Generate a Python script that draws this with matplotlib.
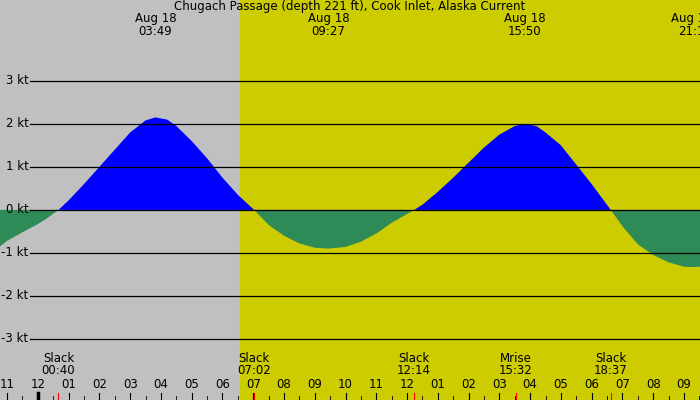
import matplotlib
matplotlib.use("Agg")
import matplotlib.pyplot as plt

times = [-1.23,-1.0,-0.5,0.0,0.33,0.67,1.0,1.5,2.0,2.5,3.0,3.5,3.82,4.2,4.5,5.0,5.5,6.0,6.5,7.03,7.5,8.0,8.5,9.0,9.45,10.0,10.5,11.0,11.5,12.23,12.5,13.0,13.5,14.0,14.5,15.0,15.5,15.83,16.2,16.5,17.0,17.5,18.0,18.62,19.0,19.5,20.0,20.5,21.0,21.3,21.52]
speeds = [-0.85,-0.72,-0.52,-0.33,-0.18,0.0,0.22,0.6,1.0,1.4,1.8,2.08,2.15,2.1,1.95,1.6,1.2,0.75,0.35,0.0,-0.35,-0.6,-0.78,-0.88,-0.9,-0.86,-0.74,-0.55,-0.3,0.0,0.12,0.42,0.75,1.1,1.45,1.75,1.95,2.0,1.95,1.8,1.5,1.05,0.6,0.0,-0.38,-0.8,-1.05,-1.22,-1.32,-1.33,-1.32]
ylevels = [3,2,1,0,-1,-2,-3]
hour_labels = ["11","12","01","02","03","04","05","06","07","08","09","10","11","12","01","02","03","04","05","06","07","08","09"]
top_events = [(3.82,"Aug 18\n03:49"),(9.45,"Aug 18\n09:27"),(15.83,"Aug 18\n15:50"),(21.25,"Aug 18\n21:1")]
bottom_events = [(0.67,"Slack\n00:40"),(7.03,"Slack\n07:02"),(12.23,"Slack\n12:14"),(15.53,"Mrise\n15:32"),(18.62,"Slack\n18:37")]
sunrise = 6.57

fig = plt.figure(figsize=(7,4), dpi=100)
ax = fig.add_axes([0,0,1,1])
x0, x1 = -1.23, 21.52
ax.set_xlim(x0, x1); ax.set_ylim(-4.42, 4.88)
ax.axis("off")
ax.axvspan(x0, sunrise, color="#c0c0c0", zorder=0)
ax.axvspan(sunrise, x1, color="#cccc00", zorder=0)
ax.fill_between(times, speeds, 0, where=[s>=0 for s in speeds], interpolate=True, color="#0000ff", lw=0, zorder=1)
ax.fill_between(times, speeds, 0, where=[s<=0 for s in speeds], interpolate=True, color="#2e8b57", lw=0, zorder=1)
for y in ylevels:
    ax.plot([-0.26, x1], [y, y], color="black", lw=0.9, zorder=2)
    ax.text(-0.3, y, f"{y} kt", ha="right", va="center", fontsize=8.5, zorder=3)
for i, lab in enumerate(hour_labels):
    t = -1 + i
    ax.text(t, -4.05, lab, ha="center", va="center", fontsize=8.5)
    ax.plot([t, t], [-4.42, -4.25], color="black", lw=0.8)
    ax.plot([t+0.5, t+0.5], [-4.42, -4.32], color="black", lw=0.6)
ax.plot([0,0],[-4.42,-4.25],color="black",lw=2.5)
for t in [0.67, 7.03, 12.23, 15.53, 18.62]:
    ax.plot([t,t],[-4.42,-4.25],color="red",lw=0.8)
for t, lab in top_events:
    ax.text(t, 4.30, lab, ha="center", va="center", fontsize=8.5, linespacing=0.95, clip_on=False)
for t, lab in bottom_events:
    ax.text(t, -3.6, lab, ha="center", va="center", fontsize=8.5, linespacing=0.95)
ax.text((x0+x1)/2, 4.72, "Chugach Passage (depth 221 ft), Cook Inlet, Alaska Current", ha="center", va="center", fontsize=8.5)
fig.savefig("out.png", dpi=100)
